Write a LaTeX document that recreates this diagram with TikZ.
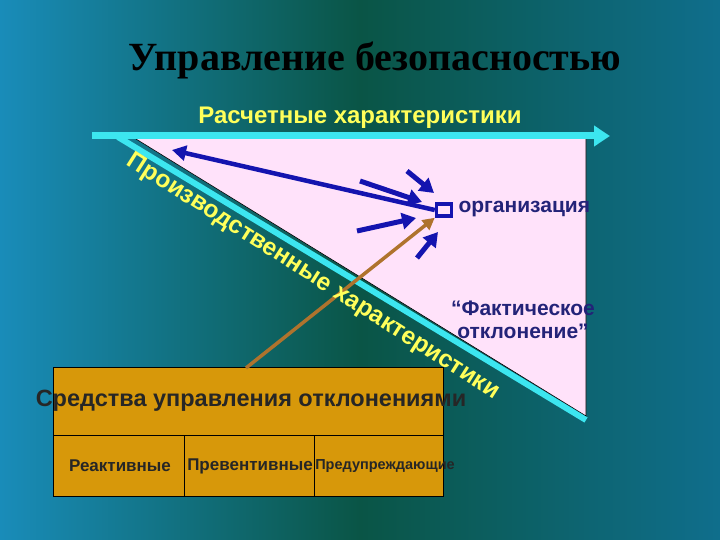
\documentclass[tikz,border=0pt]{standalone}
\usepackage{fontspec}
\setmainfont{Liberation Sans}
\newfontfamily\serifb{Liberation Serif}
\usetikzlibrary{arrows.meta}
\definecolor{cyanl}{RGB}{60,230,240}
\definecolor{pinkb}{RGB}{255,226,250}
\definecolor{yel}{RGB}{255,255,90}
\definecolor{navy}{RGB}{35,35,120}
\definecolor{blu}{RGB}{20,20,175}
\definecolor{brn}{RGB}{175,115,45}
\definecolor{gold}{RGB}{215,152,10}
\begin{document}
\begin{tikzpicture}[x=1pt,y=-1pt,
  barrow/.style={blu,line width=5pt,-{Triangle[length=14pt,width=16pt]}},
  cell/.style={draw=black,fill=gold,line width=0.6pt},
  celltxt/.style={font=\bfseries\fontsize{17}{17}\selectfont,text=black!85}]
\useasboundingbox (0,0) rectangle (720,540);
\shade[left color={rgb,255:red,25;green,140;blue,185}, right color={rgb,255:red,15;green,110;blue,140}, middle color={rgb,255:red,10;green,85;blue,70}] (0,0) rectangle (720,540);
\node (title) at (375,60) {\serifb\bfseries\fontsize{40}{40}\selectfont Управление безопасностью};
\node[text=yel,font=\bfseries\fontsize{24}{24}\selectfont] (calc) at (360,118) {Расчетные характеристики};
% triangle
\coordinate (ta) at (136,139);
\coordinate (tb) at (586,139);
\coordinate (tc) at (586,416);
\fill[pinkb] (ta) -- (tb) -- (tc) -- cycle;
\draw[black,line width=0.6pt] (ta) -- (tc) -- (tb);
% cyan lines
\coordinate (hs) at (92,136);
\coordinate (he) at (610,136);
\draw[cyanl,line width=7pt,-{Triangle[length=16pt,width=20pt]}] (hs) -- (he);
\coordinate (ds) at (118,137);
\coordinate (de) at (586,420);
\draw[cyanl,line width=6pt] (ds) -- (de);
% organization
\node[draw=blu,line width=3.5pt,minimum width=15pt,minimum height=12pt,inner sep=0pt,fill=pinkb] (org) at (444,210) {};
\node[anchor=west,text=navy,font=\bfseries\fontsize{21}{21}\selectfont] (orgt) at (455,209) {организация};
\coordinate (lf) at (172,150);
\draw[blu,line width=4.5pt,-{Triangle[length=14pt,width=15pt]}] (org.west) -- (lf);
\coordinate (a1) at (360,181); \coordinate (b1) at (422,202);
\coordinate (a2) at (407,171); \coordinate (b2) at (434,193);
\coordinate (a3) at (357,231); \coordinate (b3) at (416,218);
\coordinate (a4) at (417,258); \coordinate (b4) at (438,232);
\draw[barrow] (a1) -- (b1);
\draw[barrow] (a2) -- (b2);
\draw[barrow] (a3) -- (b3);
\draw[barrow] (a4) -- (b4);
% table
\node[cell,minimum width=390pt,minimum height=68pt,anchor=north west] (top) at (53,367) {};
\node[font=\bfseries\fontsize{23.5}{23.5}\selectfont,text=black!85] (toptxt) at (251,401) {Средства управления отклонениями};
\node[cell,minimum width=131pt,minimum height=61pt,anchor=north west] (c1) at (53,435) {};
\node[cell,minimum width=130pt,minimum height=61pt,anchor=north west] (c2) at (184,435) {};
\node[cell,minimum width=129pt,minimum height=61pt,anchor=north west] (c3) at (314,435) {};
\node[celltxt] (t1) at (120,466) {Реактивные};
\node[celltxt] (t2) at (250,466) {Превентивные};
\node[celltxt,font=\bfseries\fontsize{14.5}{14.5}\selectfont] (t3) at (385,466) {Предупреждающие};
% brown arrow
\coordinate (bs) at (246,368);
\draw[brn,line width=3.5pt,-{Triangle[length=12pt,width=12pt]}] (bs) -- (org.south west);
\node[text=yel,font=\bfseries\fontsize{24.5}{24.5}\selectfont,rotate=-32.5] (prod) at (313,277) {Производственные характеристики};
% fact
\node[text=navy,font=\bfseries\fontsize{21}{23}\selectfont,align=center] (fact) at (523,320) {“Фактическое\\отклонение”};
\end{tikzpicture}
\end{document}
